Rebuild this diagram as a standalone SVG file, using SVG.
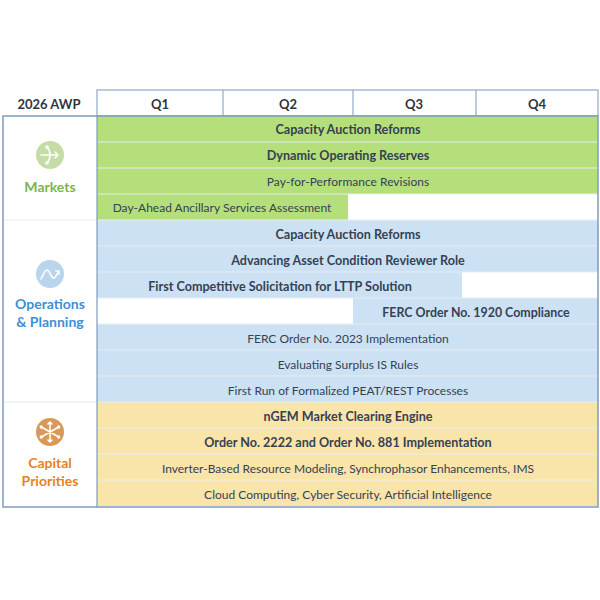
<svg xmlns="http://www.w3.org/2000/svg" width="600" height="600" viewBox="0 0 600 600">
<style>
.bg{fill:#ffffff}
.g{fill:#B5DF7B}
.b{fill:#CCE1F3}
.y{fill:#F9E4AA}
.sep{stroke:#E8EEF2;stroke-width:1.2}
.t{font-family:Lato,"Liberation Sans",sans-serif;font-size:12px;fill:#364152;text-anchor:middle}
.tb{font-weight:bold;font-size:12.6px}
.h{font-family:Lato,"Liberation Sans",sans-serif;font-size:13px;font-weight:bold;fill:#2E3440;text-anchor:middle}
.lab{font-family:Lato,"Liberation Sans",sans-serif;font-size:14px;font-weight:bold;text-anchor:middle}
.frame{fill:none;stroke:#7F9BBE;stroke-width:1.5}
.ic{fill:none;stroke:#ffffff;stroke-width:1.6;stroke-linecap:round;stroke-linejoin:round}
</style>
<rect x="0" y="0" width="600" height="600" class="bg"/>

<g id="header">
  <text class="h" x="49" y="108.5">2026 AWP</text>
  <rect x="97" y="90" width="501" height="26" fill="#fff" stroke="#8FA9C8" stroke-width="1.2"/>
  <line x1="223" y1="90" x2="223" y2="116" stroke="#8FA9C8" stroke-width="1.2"/>
  <line x1="353" y1="90" x2="353" y2="116" stroke="#8FA9C8" stroke-width="1.2"/>
  <line x1="476" y1="90" x2="476" y2="116" stroke="#8FA9C8" stroke-width="1.2"/>
  <text class="h" x="160" y="108.5">Q1</text>
  <text class="h" x="288" y="108.5">Q2</text>
  <text class="h" x="414" y="108.5">Q3</text>
  <text class="h" x="537" y="108.5">Q4</text>
</g>

<g id="markets">
  <rect x="97" y="116" width="501" height="26" class="g"/>
  <rect x="97" y="142" width="501" height="26" class="g"/>
  <rect x="97" y="168" width="501" height="26" class="g"/>
  <rect x="97" y="194" width="251" height="26" class="g"/>
  <text class="t tb" x="348" y="133.5">Capacity Auction Reforms</text>
  <text class="t tb" x="348" y="159.5">Dynamic Operating Reserves</text>
  <text class="t" x="348" y="185.5">Pay-for-Performance Revisions</text>
  <text class="t" x="222" y="211.5">Day-Ahead Ancillary Services Assessment</text>
  <circle cx="50" cy="155" r="14" fill="#C4DDA6"/>
  <path class="ic" d="M41 155 H58 M55 152 L58 155 L55 158 M50 155 C50 150 48 148 47 147 M50 155 C50 160 48 162 47 163"/>
  <circle cx="47" cy="147" r="1.8" fill="#fff"/>
  <circle cx="47" cy="163" r="1.8" fill="#fff"/>
  <text class="lab" x="50" y="192" fill="#7AB648">Markets</text>
</g>

<g id="operations">
  <rect x="97" y="220" width="501" height="26" class="b"/>
  <rect x="97" y="246" width="501" height="26" class="b"/>
  <rect x="97" y="272" width="365" height="26" class="b"/>
  <rect x="353" y="298" width="245" height="26" class="b"/>
  <rect x="97" y="324" width="501" height="26" class="b"/>
  <rect x="97" y="350" width="501" height="26" class="b"/>
  <rect x="97" y="376" width="501" height="26" class="b"/>
  <text class="t tb" x="348" y="238.5">Capacity Auction Reforms</text>
  <text class="t tb" x="348" y="264.5">Advancing Asset Condition Reviewer Role</text>
  <text class="t tb" x="280" y="290.5">First Competitive Solicitation for LTTP Solution</text>
  <text class="t tb" x="476" y="316.5" style="font-size:12.4px">FERC Order No. 1920 Compliance</text>
  <text class="t" x="348" y="342.5">FERC Order No. 2023 Implementation</text>
  <text class="t" x="348" y="368.5">Evaluating Surplus IS Rules</text>
  <text class="t" x="348" y="394.5">First Run of Formalized PEAT/REST Processes</text>
  <circle cx="50" cy="274" r="14" fill="#B9D5EC"/>
  <path class="ic" d="M41 279 C43 275 45 270 47 270 C50 270 51 279 54 278 C56 277 57 274 59 271 M56 271 H59 V274"/>
  <text class="lab" x="50" y="309" fill="#3D8ED6">Operations</text>
  <text class="lab" x="50" y="327" fill="#3D8ED6">&amp; Planning</text>
</g>

<g id="capital">
  <rect x="97" y="402" width="501" height="26" class="y"/>
  <rect x="97" y="428" width="501" height="26" class="y"/>
  <rect x="97" y="454" width="501" height="26" class="y"/>
  <rect x="97" y="480" width="501" height="26" class="y"/>
  <text class="t tb" x="348" y="420.5">nGEM Market Clearing Engine</text>
  <text class="t tb" x="348" y="446.5">Order No. 2222 and Order No. 881 Implementation</text>
  <text class="t" x="348" y="472.5">Inverter-Based Resource Modeling, Synchrophasor Enhancements, IMS</text>
  <text class="t" x="348" y="498.5">Cloud Computing, Cyber Security, Artificial Intelligence</text>
  <circle cx="50" cy="432" r="14" fill="#D9995A"/>
  <path class="ic" d="M50 422 V442 M41.3 427 L58.7 437 M41.3 437 L58.7 427 M48 424 L50 422 L52 424 M48 440 L50 442 L52 440"/>
  <circle cx="41.3" cy="427" r="1.7" fill="#fff"/>
  <circle cx="58.7" cy="437" r="1.7" fill="#fff"/>
  <circle cx="41.3" cy="437" r="1.7" fill="#fff"/>
  <circle cx="58.7" cy="427" r="1.7" fill="#fff"/>
  <text class="lab" x="50" y="468" fill="#E8821E">Capital</text>
  <text class="lab" x="50" y="486" fill="#E8821E">Priorities</text>
</g>

<g id="connectors">
  <line class="sep" x1="97" y1="142" x2="598" y2="142"/>
  <line class="sep" x1="97" y1="168" x2="598" y2="168"/>
  <line class="sep" x1="97" y1="194" x2="598" y2="194"/>
  <line class="sep" x1="3" y1="220" x2="598" y2="220"/>
  <line class="sep" x1="97" y1="246" x2="598" y2="246"/>
  <line class="sep" x1="97" y1="272" x2="598" y2="272"/>
  <line class="sep" x1="97" y1="298" x2="598" y2="298"/>
  <line class="sep" x1="97" y1="324" x2="598" y2="324"/>
  <line class="sep" x1="97" y1="350" x2="598" y2="350"/>
  <line class="sep" x1="97" y1="376" x2="598" y2="376"/>
  <line class="sep" x1="3" y1="402" x2="598" y2="402"/>
  <line class="sep" x1="97" y1="428" x2="598" y2="428"/>
  <line class="sep" x1="97" y1="454" x2="598" y2="454"/>
  <line class="sep" x1="97" y1="480" x2="598" y2="480"/>
  <line x1="97" y1="116" x2="97" y2="507" stroke="#7F9BBE" stroke-width="1.2"/>
  <rect class="frame" x="3" y="116" width="595" height="391"/>
</g>
</svg>
